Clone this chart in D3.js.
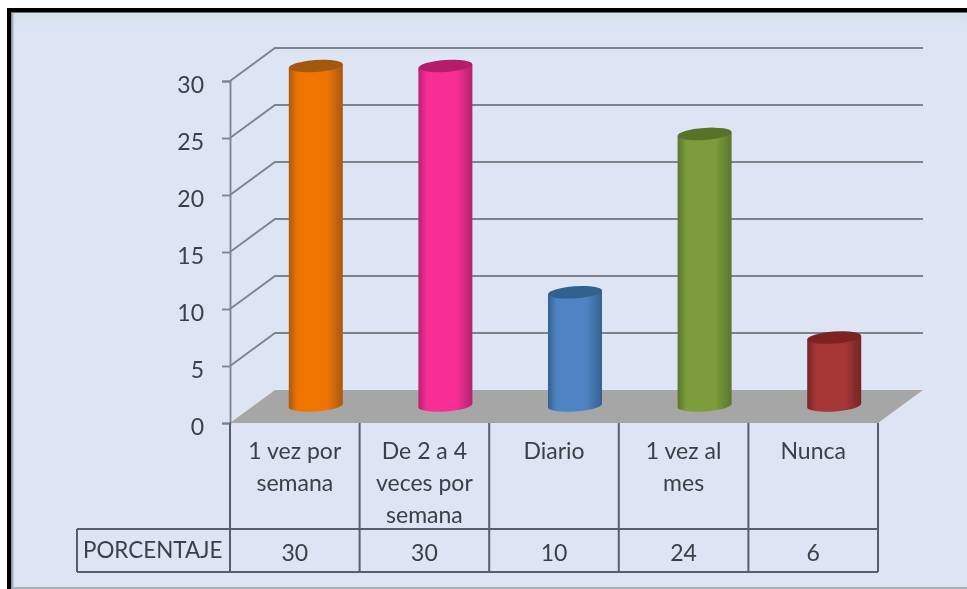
<!DOCTYPE html>
<html lang="es">
<head>
<meta charset="UTF-8">
<title>Porcentaje</title>
<style>
	html, body { margin: 0; padding: 0; background: #fff; }
	svg { display: block; }
	text { font-family: Lato, "Open Sans", sans-serif; fill: #3a3f47; }
</style>
</head>
<body>
<div id="chart"></div>
<script src="https://cdn.jsdelivr.net/npm/d3@7"></script>
<script>
// data
var categories = [['1 vez por', 'semana'], ['De 2 a 4', 'veces por', 'semana'], ['Diario'], ['1 vez al', 'mes'], ['Nunca']];
var values = [30, 30, 10, 24, 6];
var yTicks = [0, 5, 10, 15, 20, 25, 30];
var rowLabel = 'PORCENTAJE';
var barColors = [
	{ dark: '#a9590c', mid: '#ef7406', top: '#a3580f' },
	{ dark: '#b52272', mid: '#f92f95', top: '#b51f6c' },
	{ dark: '#34618f', mid: '#4f84c4', top: '#31608f' },
	{ dark: '#5a7530', mid: '#7d9c3b', top: '#59722c' },
	{ dark: '#742626', mid: '#a63636', top: '#7d2320' }
];

var width = 967, height = 589;
var depthX = 45, depthY = 33;      // 3d offset of the back wall
var barDx = 21;                    // bars stand in the middle of the floor
var barRx = 27, barRy = 6, tilt = -4;
var axisColor = '#7b838e', gridColor = '#7d8389', tableColor = '#565e69';

var svg = d3.select('#chart').append('svg')
	.attr('width', width)
	.attr('height', height);

var defs = svg.append('defs');

var soft = defs.append('filter').attr('id', 'soft');
soft.append('feGaussianBlur').attr('stdDeviation', 0.5);

var bandGrad = defs.append('linearGradient').attr('id', 'topBand')
	.attr('x1', 0).attr('x2', 0).attr('y1', 0).attr('y2', 1);
bandGrad.append('stop').attr('offset', '0%').attr('stop-color', '#d9dfe8');
bandGrad.append('stop').attr('offset', '60%').attr('stop-color', '#d9e5f2');
bandGrad.append('stop').attr('offset', '100%').attr('stop-color', '#dde4f3');

barColors.forEach(function (c, i) {
	var g = defs.append('linearGradient').attr('id', 'bar' + i)
		.attr('x1', 0).attr('x2', 1).attr('y1', 0).attr('y2', 0);
	g.append('stop').attr('offset', '0%').attr('stop-color', c.dark);
	g.append('stop').attr('offset', '16%').attr('stop-color', c.mid);
	g.append('stop').attr('offset', '70%').attr('stop-color', c.mid);
	g.append('stop').attr('offset', '100%').attr('stop-color', c.dark);
});

// frame
svg.append('rect').attr('x', 9).attr('y', 10).attr('width', width - 9).attr('height', height - 10)
	.attr('fill', '#dde4f3');
svg.append('rect').attr('x', 11).attr('y', 13).attr('width', width - 11).attr('height', 20)
	.attr('fill', 'url(#topBand)');
svg.append('rect').attr('x', 7).attr('y', 8).attr('width', width - 7).attr('height', 4.5).attr('fill', '#000');
svg.append('rect').attr('x', 7).attr('y', 8).attr('width', 4.5).attr('height', height - 8).attr('fill', '#000');
svg.append('rect').attr('x', 11.5).attr('y', 12.5).attr('width', 2).attr('height', height - 12).attr('fill', '#a9afb8');
svg.append('rect').attr('x', 11.5).attr('y', 587).attr('width', width - 11).attr('height', 2).attr('fill', '#a9afb8');

var plot = svg.append('g').attr('filter', 'url(#soft)');

// scales
var y = d3.scaleLinear().domain([0, 30]).range([423, 81]);
var yBar = d3.scaleLinear().domain([0, 30]).range([405.5, 66]);
var x = d3.scaleBand().domain(d3.range(categories.length)).range([230, 878]);

// back wall gridlines, each one goes from the axis up the side wall and along the back
var gridLine = d3.line();
plot.append('g').selectAll('path')
	.data(yTicks.slice(1))
	.join('path')
	.attr('d', function (d) {
		return gridLine([
			[x.range()[0], y(d)],
			[x.range()[0] + depthX, y(d) - depthY],
			[x.range()[1] + depthX, y(d) - depthY]
		]);
	})
	.attr('fill', 'none')
	.attr('stroke', gridColor)
	.attr('stroke-width', 1.8);

// floor
plot.append('path')
	.attr('d', gridLine([
		[x.range()[0], y(0)],
		[x.range()[0] + depthX, y(0) - depthY],
		[x.range()[1] + depthX, y(0) - depthY],
		[x.range()[1], y(0)]
	]) + 'Z')
	.attr('fill', '#a6a6a6');

// y axis
var axis = d3.axisLeft(y).tickValues(yTicks).tickSize(8).tickPadding(18);
var axisG = plot.append('g')
	.attr('transform', 'translate(' + x.range()[0] + ',0)')
	.call(axis);
axisG.select('.domain').attr('stroke', axisColor).attr('stroke-width', 1.8);
axisG.selectAll('line').attr('stroke', axisColor).attr('stroke-width', 1.8);
axisG.selectAll('text').style('font-size', '23px').attr('dy', '0.5em');

// cylinders, the end caps lean a little like in the original
var lean = Math.sin(-tilt * Math.PI / 180) * barRx;
var bars = plot.append('g').selectAll('g')
	.data(values)
	.join('g')
	.attr('transform', function (d, i) {
		return 'translate(' + (x(i) + x.bandwidth() / 2 + barDx) + ',0)';
	});

bars.append('path')
	.attr('d', function (d) {
		var top = yBar(d), base = yBar(0);
		return 'M' + (-barRx) + ',' + (top + lean) +
			'L' + (-barRx) + ',' + (base + lean) +
			'A' + barRx + ',' + barRy + ' ' + tilt + ' 0 0 ' + barRx + ',' + (base - lean) +
			'L' + barRx + ',' + (top - lean) + 'Z';
	})
	.attr('fill', function (d, i) { return 'url(#bar' + i + ')'; });

bars.append('ellipse')
	.attr('rx', barRx)
	.attr('ry', barRy)
	.attr('transform', function (d) { return 'translate(0,' + yBar(d) + ') rotate(' + tilt + ')'; })
	.attr('fill', function (d, i) { return barColors[i].top; });

// data table
var rowTop = 529, rowBottom = 572, rowLeft = 77;
var table = plot.append('g').attr('stroke', tableColor).attr('stroke-width', 2).attr('fill', 'none');
var vEdges = d3.range(categories.length + 1).map(function (i) {
	return i < categories.length ? x(i) : x.range()[1];
});
table.selectAll('.v')
	.data(vEdges)
	.join('line')
	.attr('class', 'v')
	.attr('x1', function (d) { return d; })
	.attr('x2', function (d) { return d; })
	.attr('y1', y(0))
	.attr('y2', rowBottom);
table.append('line').attr('x1', rowLeft).attr('x2', x.range()[1]).attr('y1', rowTop).attr('y2', rowTop);
table.append('line').attr('x1', rowLeft).attr('x2', x.range()[1]).attr('y1', rowBottom).attr('y2', rowBottom);
table.append('line').attr('x1', rowLeft).attr('x2', rowLeft).attr('y1', rowTop).attr('y2', rowBottom);

// category labels
var catLabels = plot.append('g').selectAll('text')
	.data(categories)
	.join('text')
	.attr('text-anchor', 'middle')
	.style('font-size', '23px');
catLabels.selectAll('tspan')
	.data(function (d, i) {
		return d.map(function (line, j) { return { line: line, i: i, j: j }; });
	})
	.join('tspan')
	.attr('x', function (d) { return x(d.i) + x.bandwidth() / 2; })
	.attr('y', function (d) { return 459 + d.j * 32; })
	.text(function (d) { return d.line; });

// value row
plot.append('text')
	.attr('x', 83)
	.attr('y', 558)
	.style('font-size', '22.4px')
	.text(rowLabel);
plot.append('g').selectAll('text')
	.data(values)
	.join('text')
	.attr('x', function (d, i) { return x(i) + x.bandwidth() / 2; })
	.attr('y', 561)
	.attr('text-anchor', 'middle')
	.style('font-size', '23px')
	.text(function (d) { return d; });
</script>
</body>
</html>
